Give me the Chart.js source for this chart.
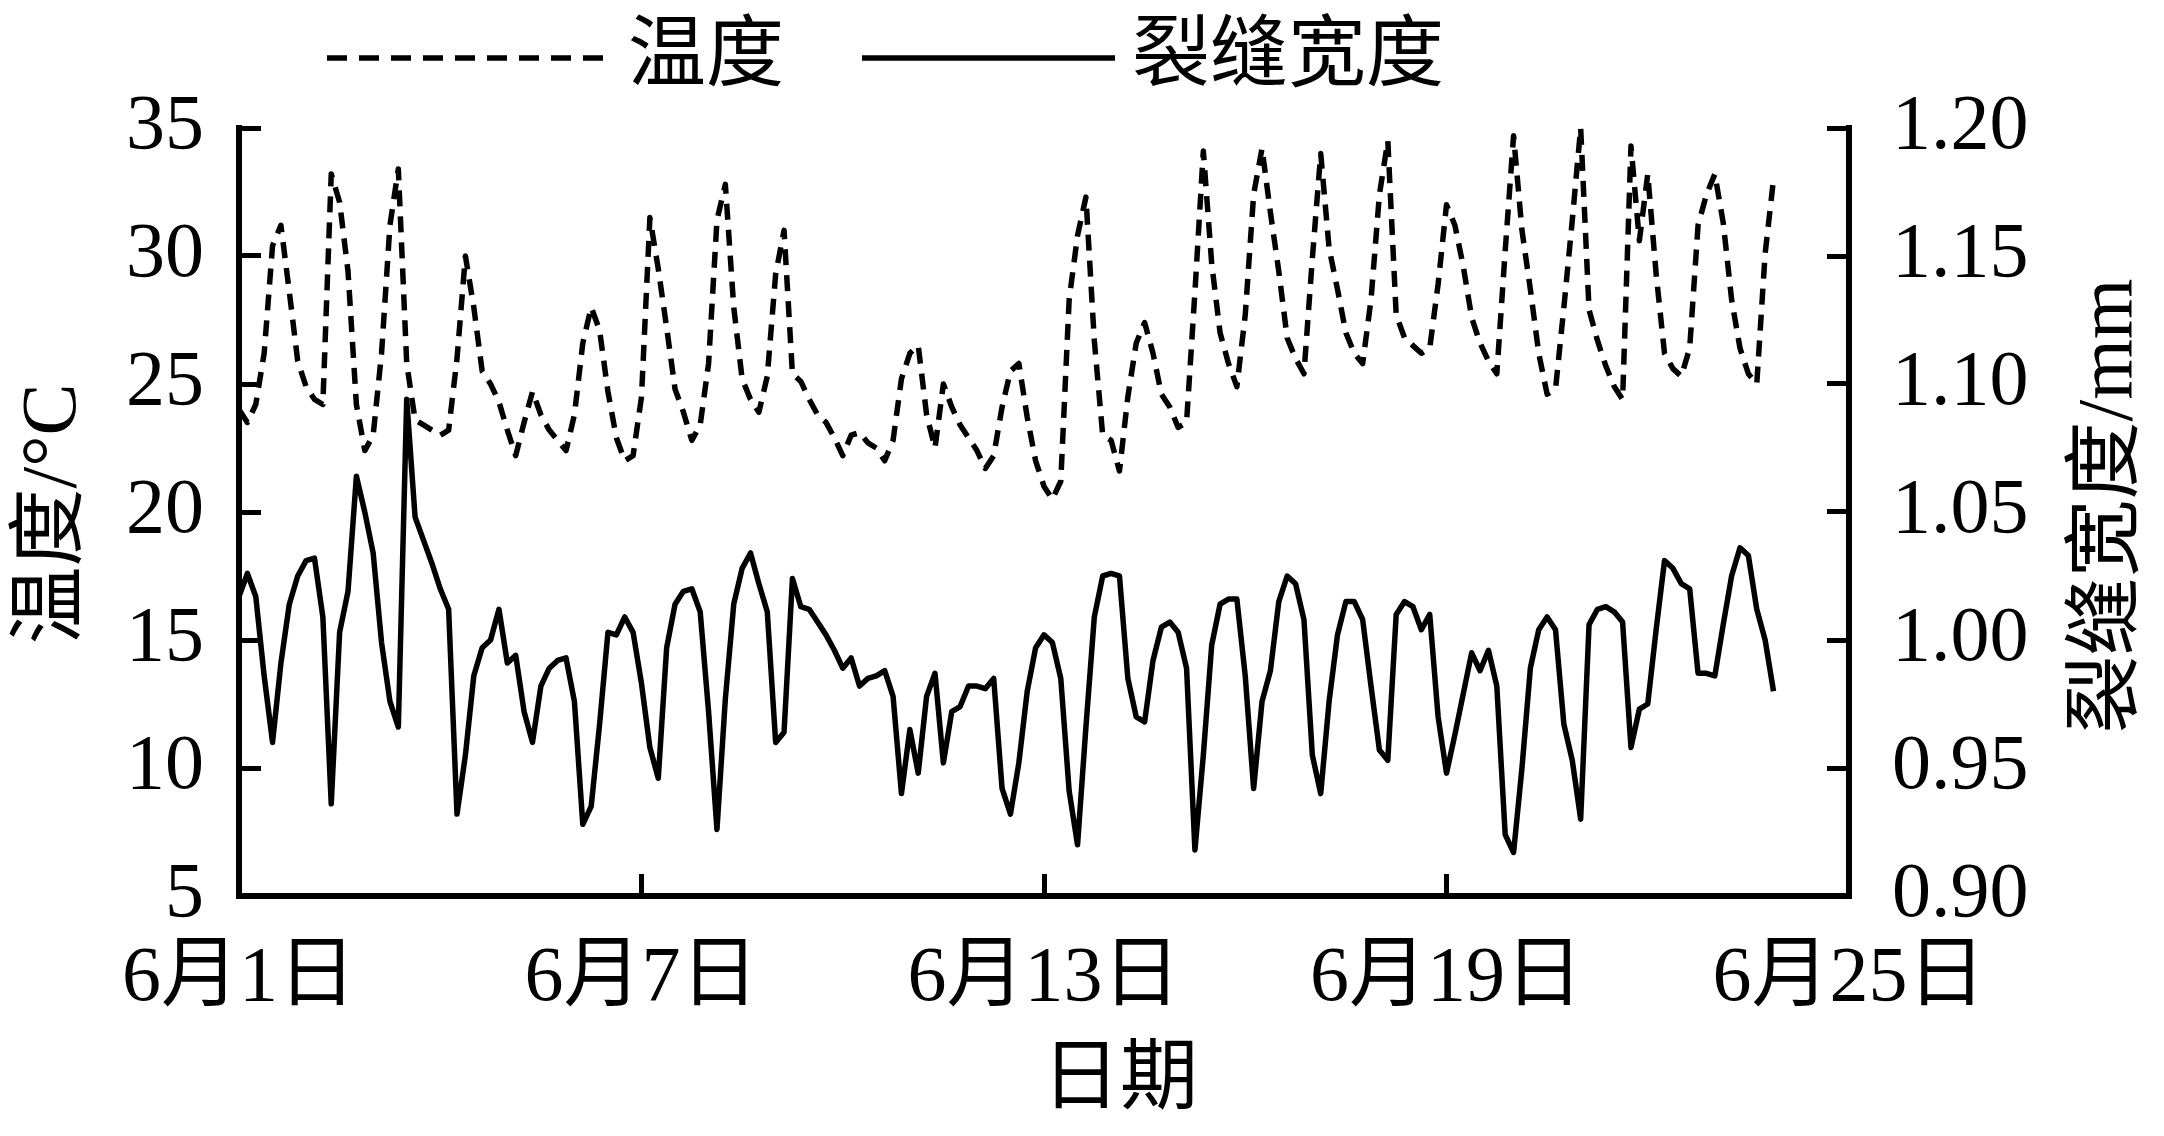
<!DOCTYPE html>
<html>
<head>
<meta charset="UTF-8">
<title>温度与裂缝宽度</title>
<script src="https://cdn.jsdelivr.net/npm/chart.js@4.4.0/dist/chart.umd.min.js"></script>
<style>
    body { margin: 0; background: #fff; }
    #wrap { width: 2164px; height: 1136px; position: relative; }
</style>
</head>
<body>
<div id="wrap"><canvas id="grafico"></canvas></div>
<script>
// one reading every 3 hours, starting 6月1日 00:00
const sampleHours = 3;

// 温度 (°C), one row per day
const temperature = [
    24.0, 23.5, 24.2, 26.2, 30.4, 31.2, 28.6, 25.9,
    24.9, 24.4, 24.2, 33.2, 32.1, 29.4, 24.2, 22.4,
    23.0, 26.2, 31.2, 33.4, 25.8, 23.6, 23.4, 23.2,
    23.0, 23.2, 26.0, 30.0, 28.0, 25.5, 25.0, 24.3,
    23.2, 22.2, 23.5, 24.7, 23.8, 23.2, 22.8, 22.4,
    23.8, 26.6, 28.0, 27.1, 24.7, 22.9, 22.0, 22.2,
    24.5, 31.5, 29.5, 27.2, 24.8, 23.9, 22.8, 23.4,
    25.8, 31.4, 32.8, 28.0, 25.2, 24.4, 23.9, 25.3,
    29.3, 31.0, 25.4, 25.1, 24.4, 23.8, 23.5, 22.9,
    22.2, 23.0, 23.1, 22.7, 22.5, 22.0, 22.8, 25.2,
    26.2, 26.5, 23.8, 22.5, 25.0, 24.1, 23.4, 22.9,
    22.4, 21.7, 22.2, 24.1, 25.5, 25.8, 23.7, 22.0,
    21.0, 20.5, 21.2, 28.3, 30.8, 32.3, 26.7, 23.0,
    22.8, 21.6, 24.5, 26.6, 27.4, 26.2, 24.6, 24.1,
    23.3, 23.5, 28.6, 34.1, 29.7, 27.0, 25.8, 24.9,
    27.7, 32.4, 34.2, 31.7, 29.4, 26.8, 26.0, 25.4,
    29.9, 34.0, 30.3, 28.7, 27.0, 26.2, 25.8, 28.3,
    32.4, 34.5, 27.7, 26.8, 26.5, 26.2, 26.4, 28.9,
    32.0, 31.2, 29.6, 27.6, 26.6, 25.9, 25.4, 30.2,
    34.7, 31.0, 28.7, 26.2, 24.6, 24.8, 28.0, 31.4,
    35.0, 27.9, 26.7, 25.7, 24.9, 24.4, 34.3, 30.6,
    33.2, 29.3, 26.2, 25.6, 25.3, 26.4, 31.2, 32.4,
    33.2, 31.3, 28.3, 26.4, 25.4, 25.0, 30.1, 33.0
];

// 裂缝宽度 (mm), one row per day
const crackWidth = [
    1.017, 1.026, 1.017, 0.986, 0.960, 0.991, 1.014, 1.025,
    1.031, 1.032, 1.009, 0.936, 1.003, 1.019, 1.064, 1.050,
    1.034, 0.999, 0.976, 0.966, 1.094, 1.048, 1.039, 1.030,
    1.020, 1.012, 0.932, 0.955, 0.986, 0.997, 1.000, 1.012,
    0.991, 0.994, 0.972, 0.960, 0.982, 0.989, 0.992, 0.993,
    0.976, 0.928, 0.935, 0.967, 1.003, 1.002, 1.009, 1.003,
    0.983, 0.958, 0.946, 0.997, 1.014, 1.019, 1.020, 1.011,
    0.972, 0.926, 0.977, 1.014, 1.028, 1.034, 1.022, 1.011,
    0.960, 0.964, 1.024, 1.013, 1.012, 1.007, 1.002, 0.996,
    0.989, 0.993, 0.982, 0.985, 0.986, 0.988, 0.978, 0.940,
    0.965, 0.948, 0.978, 0.987, 0.952, 0.972, 0.974, 0.982,
    0.982, 0.981, 0.985, 0.942, 0.932, 0.952, 0.980, 0.997,
    1.002, 0.999, 0.985, 0.941, 0.920, 0.966, 1.009, 1.025,
    1.026, 1.025, 0.985, 0.970, 0.968, 0.992, 1.005, 1.007,
    1.003, 0.989, 0.918, 0.955, 0.998, 1.014, 1.016, 1.016,
    0.986, 0.942, 0.976, 0.988, 1.015, 1.025, 1.022, 1.008,
    0.955, 0.940, 0.976, 1.002, 1.015, 1.015, 1.008, 0.982,
    0.957, 0.953, 1.010, 1.015, 1.013, 1.004, 1.010, 0.970,
    0.948, 0.963, 0.979, 0.995, 0.988, 0.996, 0.982, 0.924,
    0.917, 0.950, 0.989, 1.004, 1.009, 1.004, 0.967, 0.953,
    0.930, 1.006, 1.012, 1.013, 1.011, 1.007, 0.958, 0.973,
    0.975, 1.004, 1.031, 1.028, 1.022, 1.020, 0.987, 0.987,
    0.986, 1.006, 1.025, 1.036, 1.033, 1.012, 1.000, 0.980
];

const dateTicks = [0, 144, 288, 432, 576];   // hours since 6月1日
const dateLabels = ['6月1日', '6月7日', '6月13日', '6月19日', '6月25日'];
const tempTicks = [5, 10, 15, 20, 25, 30, 35];
const widthTicks = [0.90, 0.95, 1.00, 1.05, 1.10, 1.15, 1.20];
const seriesNames = ['温度', '裂缝宽度'];
const axisTitles = ['日期', '温度/°C', '裂缝宽度/mm'];

const fontFamily = '"Liberation Serif", "Noto Sans CJK SC", serif';
Chart.defaults.font.family = fontFamily;
Chart.defaults.font.size = 78;
Chart.defaults.color = '#000';

function toPoints(values) {
    return values.map(function (v, i) { return { x: i * sampleHours, y: v }; });
}

// ticks pointing into the plot, axis lines on three sides
function axisLook(extra) {
    return Object.assign({
        grid: { display: true, drawOnChartArea: false, drawTicks: true, tickLength: -22, tickWidth: 5, color: '#000' },
        border: { display: true, width: 6, color: '#000' }
    }, extra);
}

// legend and axis titles drawn by hand so they sit where the original has them
const extras = {
    id: 'extras',
    afterDraw: function (chart) {
        const ctx = chart.ctx;
        const sets = chart.data.datasets;
        ctx.save();
        ctx.fillStyle = '#000';
        ctx.strokeStyle = '#000';
        ctx.font = '78px ' + fontFamily;
        ctx.textBaseline = 'middle';

        // legend
        const legendY = 58;
        const legend = [[327, 614, 628], [862, 1115, 1132]];
        legend.forEach(function (it, i) {
            ctx.lineWidth = sets[i].borderWidth;
            ctx.setLineDash(i === 0 ? [20, 12] : []);
            ctx.beginPath();
            ctx.moveTo(it[0], legendY);
            ctx.lineTo(it[1], legendY);
            ctx.stroke();
            ctx.setLineDash([]);
            ctx.textAlign = 'left';
            ctx.fillText(sets[i].label, it[2], legendY + 2);
        });

        // x title
        ctx.textAlign = 'center';
        ctx.fillText(axisTitles[0], 1120, 1083);

        // y titles, both read bottom to top
        [[axisTitles[1], 55, 514], [axisTitles[2], 2111, 506]].forEach(function (t) {
            ctx.save();
            ctx.translate(t[1], t[2]);
            ctx.rotate(-Math.PI / 2);
            ctx.fillText(t[0], 0, 0);
            ctx.restore();
        });
        ctx.restore();
    }
};

new Chart(document.getElementById('grafico'), {
    type: 'line',
    data: {
        datasets: [
            {
                label: seriesNames[0],
                data: toPoints(temperature),
                yAxisID: 'y',
                borderColor: '#000',
                borderWidth: 5.5,
                borderDash: [16, 10],
                borderJoinStyle: 'round',
                pointRadius: 0,
                tension: 0,
                fill: false
            },
            {
                label: seriesNames[1],
                data: toPoints(crackWidth),
                yAxisID: 'y1',
                borderColor: '#000',
                borderWidth: 5.5,
                borderJoinStyle: 'round',
                pointRadius: 0,
                tension: 0,
                fill: false
            }
        ]
    },
    options: {
        responsive: true,
        maintainAspectRatio: false,
        animation: false,
        devicePixelRatio: 1,
        layout: { padding: { top: 128, left: 0, right: 0, bottom: 0 } },
        plugins: {
            legend: { display: false },
            tooltip: { enabled: false }
        },
        scales: {
            x: axisLook({
                type: 'linear',
                min: 0,
                max: 576,
                afterBuildTicks: function (s) { s.ticks = dateTicks.map(function (v) { return { value: v }; }); },
                afterFit: function (s) { s.height = 240; },
                ticks: {
                    autoSkip: false,
                    maxRotation: 0,
                    padding: 59,
                    callback: function (v) { return dateLabels[dateTicks.indexOf(v)]; }
                }
            }),
            y: axisLook({
                position: 'left',
                min: 5,
                max: 35,
                afterBuildTicks: function (s) { s.ticks = tempTicks.map(function (v) { return { value: v }; }); },
                afterFit: function (s) { s.width = 239; },
                ticks: { padding: 57 }
            }),
            y1: axisLook({
                position: 'right',
                min: 0.90,
                max: 1.20,
                afterBuildTicks: function (s) { s.ticks = widthTicks.map(function (v) { return { value: v }; }); },
                afterFit: function (s) { s.width = 315; },
                ticks: {
                    padding: 65,
                    callback: function (v) { return Number(v).toFixed(2); }
                }
            })
        }
    },
    plugins: [extras]
});
</script>
</body>
</html>
